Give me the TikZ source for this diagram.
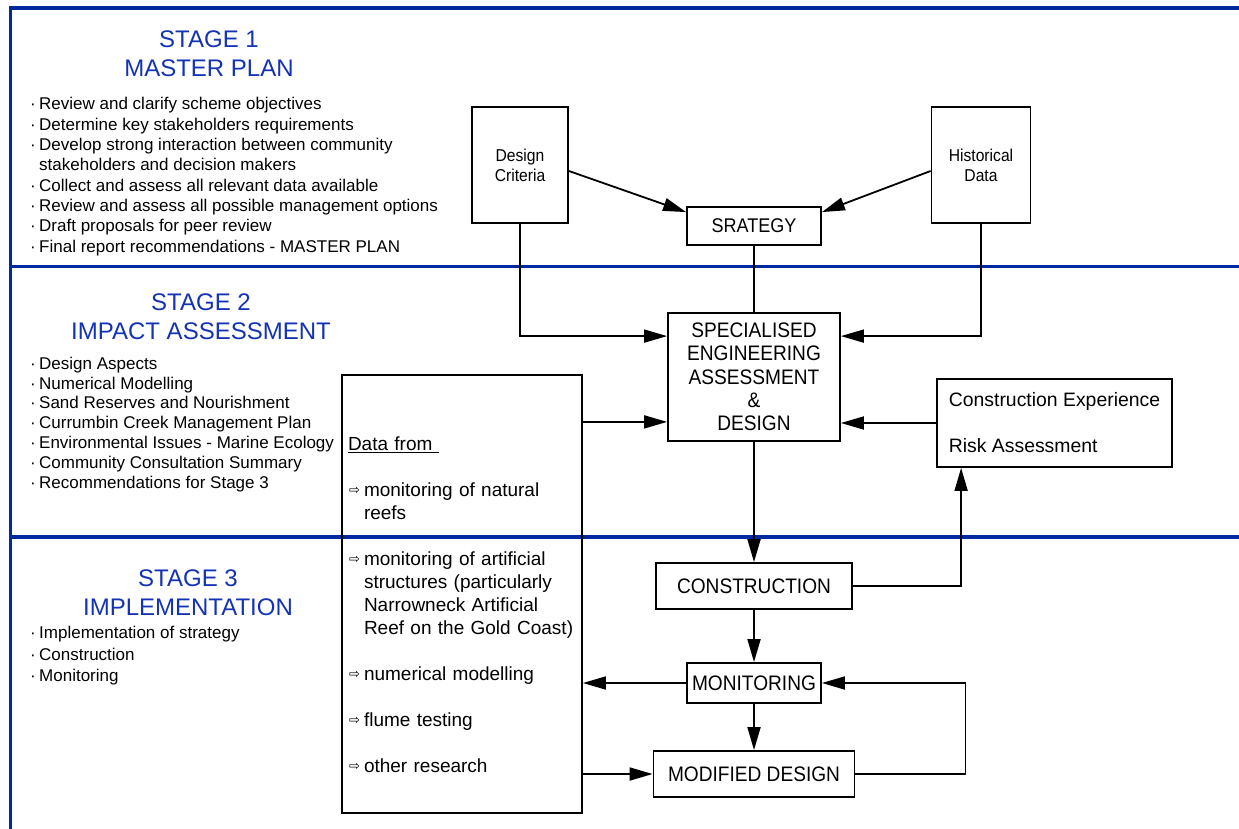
\documentclass[tikz,border=0pt]{standalone}
\usepackage{fontspec}
\setmainfont{Liberation Sans}
\newfontfamily\dvs{DejaVu Sans}
\newfontfamily\nar{Liberation Sans}[FakeStretch=0.91]
\usetikzlibrary{arrows.meta}
\definecolor{frameblue}{RGB}{0,40,160}
\definecolor{titleblue}{RGB}{20,50,180}
\newcommand{\bul}{\makebox[9pt][l]{·}}
\newcommand{\ind}{\hspace*{9pt}}
\newcommand{\darr}{\hspace*{1pt}\makebox[15pt][l]{\raisebox{2.5pt}{\dvs\fontsize{13}{13}\selectfont ⇨}}}
\newcommand{\dind}{\hspace*{16pt}}
\begin{document}
\begin{tikzpicture}[x=1pt,y=-1pt,
  box/.style={draw,line width=1.8pt,inner sep=0pt,align=center},
  arr/.style={line width=1.8pt,-{Triangle[length=23pt,width=13pt]}},
  ln/.style={line width=1.8pt},
  frameline/.style={draw=frameblue,line width=3.5pt},
  title/.style={anchor=base,align=center,inner sep=0pt,text=titleblue,font=\fontsize{24}{29}\selectfont},
  list/.style={anchor=base west,align=left,inner sep=0pt},
  big/.style={font=\nar\fontsize{21}{23}\selectfont}]
\useasboundingbox (0,0) rectangle (1239,829);
% blue frame
\draw[frameline] (10.5,6.5) -- (10.5,829);
\draw[frameline] (9,8) -- (1239,8);
\draw[frameline] (9,266.5) -- (1239,266.5);
\draw[frameline] (9,537) -- (1239,537);
% stage titles (base = last line)
\node[title] (t1) at (209,77) {STAGE 1\\MASTER PLAN};
\node[title] (t2) at (201,339) {STAGE 2\\IMPACT ASSESSMENT};
\node[title] (t3) at (188,615) {STAGE 3\\IMPLEMENTATION};
% stage lists (base = last line)
\node[list,font=\fontsize{17}{20.3}\selectfont] (l1) at (30,252) {\bul Review and clarify scheme objectives\\
\bul Determine key stakeholders requirements\\
\bul Develop strong interaction between community\\
\ind stakeholders and decision makers\\
\bul Collect and assess all relevant data available\\
\bul Review and assess all possible management options\\
\bul Draft proposals for peer review\\
\bul Final report recommendations - MASTER PLAN};
\node[list,font=\fontsize{17}{19.8}\selectfont] (l2) at (30,488) {\bul Design Aspects\\
\bul Numerical Modelling\\
\bul Sand Reserves and Nourishment\\
\bul Currumbin Creek Management Plan\\
\bul Environmental Issues - Marine Ecology\\
\bul Community Consultation Summary\\
\bul Recommendations for Stage 3};
\node[list,font=\fontsize{17}{20.5}\selectfont] (l3) at (30,681) {\bul Implementation of strategy\\[2pt]
\bul Construction\\
\bul Monitoring};
% boxes
\node[box,minimum width=96pt,minimum height=116pt,font=\nar\fontsize{17.2}{20}\selectfont] (dc) at (520,165) {Design\\Criteria};
\node[box,minimum width=99pt,minimum height=116pt,font=\nar\fontsize{17.2}{20}\selectfont] (hd) at (981,165) {Historical\\Data};
\node[box,minimum width=134pt,minimum height=38pt,font=\nar\fontsize{19.8}{22}\selectfont] (st) at (754,226) {SRATEGY};
\node[box,minimum width=172pt,minimum height=128pt,font=\nar\fontsize{21}{23.3}\selectfont] (sp) at (754,377) {SPECIALISED\\ENGINEERING\\ASSESSMENT\\\&\\DESIGN};
\node[box,minimum width=235pt,minimum height=88pt,align=left,font=\fontsize{19.4}{23}\selectfont] (ce) at (1054.5,423) {Construction Experience\\[23pt]Risk Assessment};
\node[box,text width=228pt,inner xsep=6pt,inner ysep=0pt,minimum height=438pt,align=left,font=\fontsize{19}{23}\selectfont] (data) at (462,594) {\rule{0pt}{36pt}\underline{Data from\ }\\[23pt]
\darr monitoring of natural\\
\dind reefs\\[23pt]
\darr monitoring of artificial\\
\dind structures (particularly\\
\dind Narrowneck Artificial\\
\dind Reef on the Gold Coast)\\[23pt]
\darr numerical modelling\\[23pt]
\darr flume testing\\[23pt]
\darr other research};
\node[box,big,minimum width=196pt,minimum height=46pt] (con) at (754,586) {CONSTRUCTION};
\node[box,big,minimum width=134pt,minimum height=40pt] (mon) at (754,683) {MONITORING};
\node[box,big,minimum width=201pt,minimum height=46pt] (mod) at (754,774) {MODIFIED DESIGN};
% connectors
\coordinate (spL1) at ([yshift=-24pt]sp.north west);
\coordinate (spR1) at ([yshift=-24pt]sp.north east);
\coordinate (spL2) at ([yshift=20pt]sp.south west);
\coordinate (ceB) at ([xshift=25pt]ce.south west);
\draw[arr] ([yshift=-6pt]dc.east) -- ([yshift=-6pt]st.north west);
\draw[arr] ([yshift=-6pt]hd.west) -- ([yshift=-6pt]st.north east);
\draw[ln] (st.south) -- (sp.north);
\draw[arr] (dc.south) |- (spL1);
\draw[arr] (hd.south) |- (spR1);
\draw[arr] (spL2 -| data.east) -- (spL2);
\draw[arr] (ce.west) -- (ce.west -| sp.east);
\draw[arr] (sp.south) -- (con.north);
\draw[arr] (con.east) -| (ceB);
\draw[arr] (con.south) -- (mon.north);
\draw[arr] (mon.south) -- (mod.north);
\draw[arr] (mon.west) -- (mon.west -| data.east);
\draw[arr] (mod.west -| data.east) -- (mod.west);
\draw[arr] (mod.east) -- ++(110,0) |- (mon.east);
\end{tikzpicture}
\end{document}
